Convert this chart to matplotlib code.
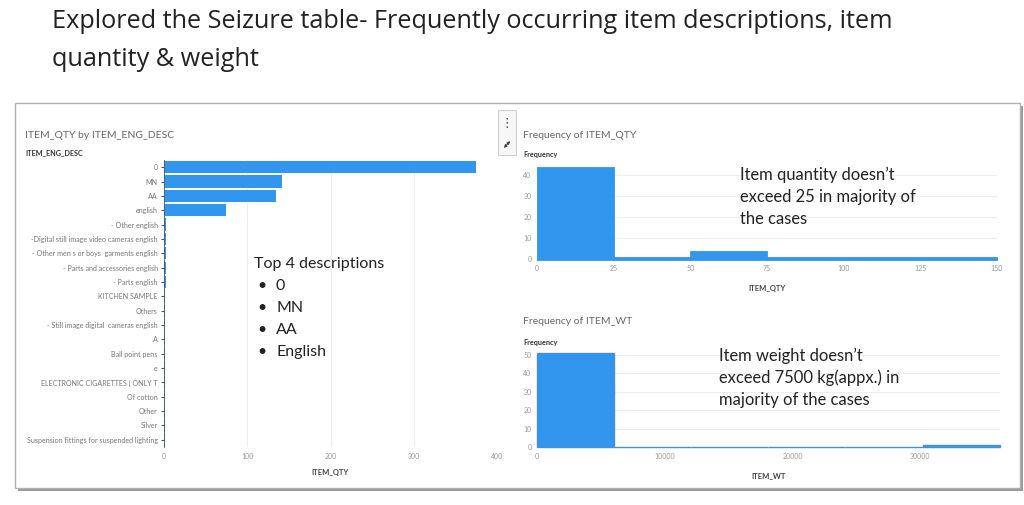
import matplotlib
matplotlib.use('Agg')
import matplotlib.pyplot as plt
from matplotlib.patches import Rectangle, FancyArrowPatch
import numpy as np

# --- DATA ---
desc_labels = [
    "0", "MN", "AA", "english", "- Other english",
    "-Digital still image video cameras english",
    "- Other men s or boys  garments english",
    "- Parts and accessories english", "- Parts english", "KITCHEN SAMPLE",
    "Others", "- Still image digital  cameras english", "A", "Ball point pens",
    "e", "ELECTRONIC CIGARETTES ( ONLY T", "Of cotton", "Other", "Silver",
    "Suspension fittings for suspended lighting",
]
desc_qty = [375, 142, 134, 75, 3, 3, 2, 2, 2, 1.5, 1.5, 1, 1, 1, 1, 1, 1, 1, 1, 1]

qty_bin_edges = [0, 25, 50, 75, 100, 125, 150]
qty_counts = [44, 1, 4, 1, 1, 1]

wt_bin_edges = [0, 6040, 12080, 18120, 24160, 30200, 36240]
wt_counts = [51, 0, 0, 0, 0, 1]

BLUE = '#3296EE'
W, H = 1024, 505

def fx(px):
    return px / W

def fy(py):
    return 1 - py / H

def ax_rect(left, top, right, bottom):
    return [fx(left), fy(bottom), (right - left) / W, (bottom - top) / H]

def style_axes(ax):
    ax.set_zorder(3)
    ax.patch.set_alpha(0)
    for s in ax.spines.values():
        s.set_visible(False)
    ax.tick_params(labelsize=5, colors='#999999', length=0, pad=4)

plt.rcParams['font.family'] = ['Lato', 'DejaVu Sans']
fig = plt.figure(figsize=(W / 100, H / 100), dpi=100)

# slide title
title_font = ['Open Sans', 'DejaVu Sans']
fig.text(fx(52), fy(22), "Explored the Seizure table- Frequently occurring item descriptions, item",
         fontsize=18.2, color='#222222', va='center', ha='left', family=title_font)
fig.text(fx(52), fy(60), "quantity & weight",
         fontsize=18.2, color='#222222', va='center', ha='left', family=title_font)

# dashboard frame with a small shadow
fig.patches.append(Rectangle((fx(18), fy(491)), fx(1005), (491 - 106) / H,
                             transform=fig.transFigure, facecolor='#9a9a9a',
                             edgecolor='none', zorder=0))
fig.patches.append(Rectangle((fx(15), fy(488)), fx(1005), (488 - 103) / H,
                             transform=fig.transFigure, facecolor='white',
                             edgecolor='#b0b0b0', linewidth=1, zorder=0.5))

# toolbar between panels
fig.patches.append(Rectangle((fx(498), fy(155)), fx(18), 45 / H,
                             transform=fig.transFigure, facecolor='#f7f7f7',
                             edgecolor='#d0d0d0', linewidth=0.8, zorder=1))
fig.text(fx(507), fy(124), "\u22EE", fontsize=9, color='#444444', ha='center', va='center',
         family=['DejaVu Sans'])
# expand icon: a small diagonal double-headed arrow
fig.add_artist(FancyArrowPatch(
    (fx(502), fy(150)), (fx(512), fy(139)), transform=fig.transFigure,
    arrowstyle='<|-|>', mutation_scale=4, color='#444444', linewidth=0.8, zorder=2))

# --- left: ITEM_QTY by ITEM_ENG_DESC ---
ax1 = fig.add_axes(ax_rect(164, 160, 497, 447))
y = np.arange(len(desc_labels))
ax1.barh(y, desc_qty, height=0.85, color=BLUE)
style_axes(ax1)
ax1.set_yticks(y)
ax1.set_yticklabels(desc_labels)
ax1.set_ylim(len(desc_labels) - 0.5, -0.5)
ax1.set_xlim(0, 400)
ax1.set_xticks([0, 100, 200, 300, 400])
ax1.tick_params(axis='y', length=2.5, color='#555555', labelsize=5.1, labelcolor='#777777', pad=2)
ax1.spines['left'].set_visible(True)
ax1.spines['left'].set_color('#555555')
ax1.spines['left'].set_linewidth(0.6)
ax1.grid(axis='x', color='#eeeeee', linewidth=0.8)
ax1.set_axisbelow(True)
ax1.set_xlabel("ITEM_QTY", fontsize=5.5, fontweight='bold', color='#444444', labelpad=7)

fig.text(fx(25), fy(135), "ITEM_QTY by ITEM_ENG_DESC", fontsize=7.5, color='#666666', va='center')
fig.text(fx(25), fy(153), "ITEM_ENG_DESC", fontsize=5.2, fontweight='bold', color='#333333', va='center')

fig.text(fx(254), fy(264), "Top 4 descriptions", fontsize=11.5, color='#222222', va='center')
for i, name in enumerate(["0", "MN", "AA", "English"]):
    yy = 286 + 22 * i
    fig.text(fx(257), fy(yy), "\u2022", fontsize=11.5, color='#222222', va='center')
    fig.text(fx(276), fy(yy), name, fontsize=11.5, color='#222222', va='center')

# --- right top: Frequency of ITEM_QTY ---
ax2 = fig.add_axes(ax_rect(537, 164.5, 997, 259.5))
ax2.bar(qty_bin_edges[:-1], qty_counts, width=np.diff(qty_bin_edges), align='edge',
        color=BLUE, edgecolor=BLUE, linewidth=0.6, clip_on=False)
style_axes(ax2)
ax2.set_xlim(0, 150)
ax2.set_ylim(0, 45)
ax2.set_xticks(qty_bin_edges)
ax2.set_yticks([0, 10, 20, 30, 40])
ax2.grid(axis='y', color='#eeeeee', linewidth=0.8)
ax2.set_axisbelow(True)
ax2.set_xlabel("ITEM_QTY", fontsize=5.5, fontweight='bold', color='#444444', labelpad=9)
fig.text(fx(523), fy(135), "Frequency of ITEM_QTY", fontsize=7.5, color='#666666', va='center')
fig.text(fx(523), fy(155), "Frequency", fontsize=5.2, fontweight='bold', color='#333333', va='center')

fig.text(fx(740), fy(175), "Item quantity doesn\u2019t", fontsize=11.9, color='#222222', va='center')
fig.text(fx(740), fy(197), "exceed 25 in majority of", fontsize=11.9, color='#222222', va='center')
fig.text(fx(740), fy(219), "the cases", fontsize=11.9, color='#222222', va='center')

# --- right bottom: Frequency of ITEM_WT ---
ax3 = fig.add_axes(ax_rect(537, 351, 1000, 447))
ax3.bar(wt_bin_edges[:-1], wt_counts, width=np.diff(wt_bin_edges), align='edge',
        color=BLUE, edgecolor='#4a90d0', linewidth=1.0, clip_on=False)
style_axes(ax3)
ax3.set_xlim(0, 36260)
ax3.set_ylim(0, 52)
ax3.set_xticks([0, 10000, 20000, 30000])
ax3.set_yticks([0, 10, 20, 30, 40, 50])
ax3.grid(axis='y', color='#eeeeee', linewidth=0.8)
ax3.set_axisbelow(True)
ax3.set_xlabel("ITEM_WT", fontsize=5.5, fontweight='bold', color='#444444', labelpad=9)
fig.text(fx(523), fy(322), "Frequency of ITEM_WT", fontsize=7.5, color='#666666', va='center')
fig.text(fx(523), fy(342), "Frequency", fontsize=5.2, fontweight='bold', color='#333333', va='center')

fig.text(fx(719), fy(356), "Item weight doesn\u2019t", fontsize=11.9, color='#222222', va='center')
fig.text(fx(719), fy(378), "exceed 7500 kg(appx.) in", fontsize=11.9, color='#222222', va='center')
fig.text(fx(719), fy(400), "majority of the cases", fontsize=11.9, color='#222222', va='center')

fig.savefig("out.png", dpi=100)
